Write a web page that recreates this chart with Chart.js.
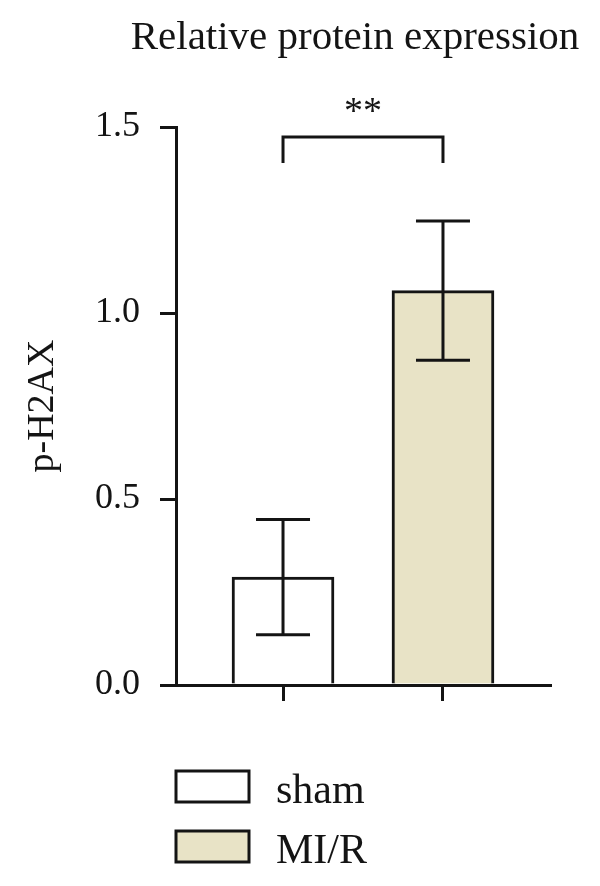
<!DOCTYPE html>
<html lang="en">
<head>
<meta charset="UTF-8">
<title>p-H2AX</title>
<script src="https://cdn.jsdelivr.net/npm/chart.js"></script>
<style>
    body { margin: 0; background: #fff; }
    #wrap { width: 600px; height: 886px; }
</style>
</head>
<body>
<div id="wrap"><canvas id="barChart" width="600" height="886"></canvas></div>
<script>
// data
const groups = ['sham', 'MI/R'];
const means = [0.29, 1.06];
const sems = [0.155, 0.187];
const yTicks = [0, 0.5, 1.0, 1.5];
const chartTitle = 'Relative protein expression';
const yTitle = 'p-H2AX';
const sigLabel = '**';
const sigLevel = [1.473, 1.403]; // bracket top / leg ends

const ink = '#141414';
const fills = ['#ffffff', '#e8e3c6'];
const serif = '"Liberation Serif", "DejaVu Serif", serif';

// error bars
const errorBars = {
    id: 'errorBars',
    afterDatasetsDraw(chart) {
        const { ctx, scales: { x, y } } = chart;
        ctx.save();
        ctx.strokeStyle = ink;
        ctx.lineWidth = 3;
        means.forEach((m, i) => {
            const px = x.getPixelForValue(i);
            const top = y.getPixelForValue(m + sems[i]);
            const bot = y.getPixelForValue(m - sems[i]);
            ctx.beginPath();
            ctx.moveTo(px, top); ctx.lineTo(px, bot);
            ctx.moveTo(px - 27, top); ctx.lineTo(px + 27, top);
            ctx.moveTo(px - 27, bot); ctx.lineTo(px + 27, bot);
            ctx.stroke();
        });
        ctx.restore();
    }
};

// significance bracket + title + legend
const extras = {
    id: 'extras',
    afterDraw(chart) {
        const { ctx, scales: { x, y } } = chart;
        ctx.save();
        ctx.fillStyle = ink;
        ctx.strokeStyle = ink;
        ctx.lineWidth = 3;

        // title
        ctx.font = '41px ' + serif;
        ctx.textAlign = 'center';
        ctx.textBaseline = 'alphabetic';
        ctx.fillText(chartTitle, 355, 49);

        // bracket
        const x0 = x.getPixelForValue(0), x1 = x.getPixelForValue(1);
        const yt = y.getPixelForValue(sigLevel[0]), yb = y.getPixelForValue(sigLevel[1]);
        ctx.beginPath();
        ctx.moveTo(x0, yb); ctx.lineTo(x0, yt); ctx.lineTo(x1, yt); ctx.lineTo(x1, yb);
        ctx.stroke();
        ctx.font = '38px ' + serif;
        ctx.fillText(sigLabel, (x0 + x1) / 2, yt - 14);

        // legend
        ctx.textAlign = 'left';
        ctx.font = '42px ' + serif;
        groups.forEach((g, i) => {
            const top = 771 + i * 60;
            ctx.fillStyle = fills[i];
            ctx.fillRect(176, top, 73, 31);
            ctx.strokeRect(176, top, 73, 31);
            ctx.fillStyle = ink;
            ctx.fillText(g, 276, top + 32);
        });
        ctx.restore();
    }
};

new Chart(document.getElementById('barChart'), {
    type: 'bar',
    data: {
        datasets: [{
            data: means.map((m, i) => ({ x: i, y: m })),
            backgroundColor: fills,
            borderColor: ink,
            borderWidth: 3,
            borderSkipped: 'start',
            barThickness: 102
        }]
    },
    options: {
        responsive: false,
        animation: false,
        layout: { padding: { top: 127, right: 50, bottom: 181, left: 0 } },
        plugins: { legend: { display: false }, tooltip: { enabled: false } },
        scales: {
            x: {
                type: 'linear',
                min: -0.669,
                max: 1.669,
                offset: false,
                afterBuildTicks: s => { s.ticks = [0, 1].map(v => ({ value: v })); },
                afterFit: s => { s.height = 20; },
                ticks: { callback: () => '' },
                grid: { offset: false, drawOnChartArea: false, tickLength: 16, color: ink, lineWidth: 3 },
                border: { color: ink, width: 3 }
            },
            y: {
                min: 0,
                max: 1.5,
                afterBuildTicks: s => { s.ticks = yTicks.map(v => ({ value: v })); },
                afterFit: s => { s.width = 176; },
                ticks: {
                    padding: 20,
                    color: ink,
                    font: { family: serif, size: 36 },
                    callback: v => v.toFixed(1)
                },
                grid: { drawOnChartArea: false, tickLength: 16, color: ink, lineWidth: 3 },
                border: { color: ink, width: 3 },
                title: {
                    display: true,
                    text: yTitle,
                    color: ink,
                    font: { family: serif, size: 38 },
                    padding: { top: 20, bottom: 0 }
                }
            }
        }
    },
    plugins: [errorBars, extras]
});
</script>
</body>
</html>
